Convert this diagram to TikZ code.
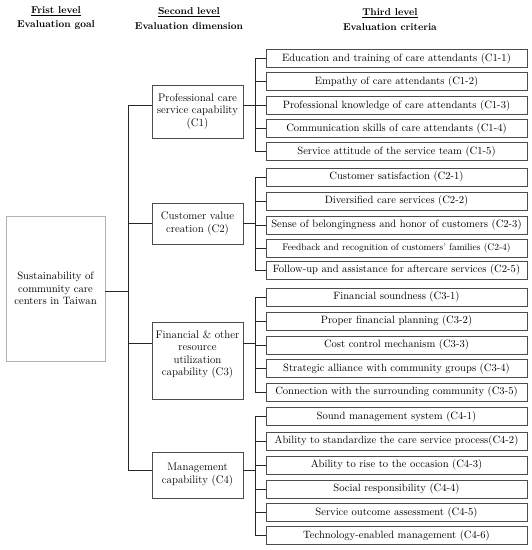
\documentclass[tikz,border=0pt]{standalone}
\usetikzlibrary{calc}
\begin{document}
\begin{tikzpicture}[x=1pt,y=-1pt,
  box/.style={draw=black!70, line width=0.7pt, inner sep=0pt, align=center},
  l3/.style={box, minimum width=261pt, minimum height=18pt, font=\fontsize{10.6}{12}\selectfont},
  l2/.style={box, minimum width=91pt, font=\fontsize{11}{12.5}\selectfont},
  hdr/.style={font=\bfseries\fontsize{10}{13}\selectfont, align=center, inner sep=0pt},
  conn/.style={draw=black!85, line width=0.8pt}]
\useasboundingbox (0,0) rectangle (532,550);
% headers
\node[hdr] (h1a) at (56,11) {\underline{Frist level}};
\node[hdr] (h1b) at (56,25) {Evaluation goal};
\node[hdr] (h2a) at (189,12) {\underline{Second level}};
\node[hdr] (h2b) at (189,26) {Evaluation dimension};
\node[hdr] (h3a) at (390,13) {\underline{Third level}};
\node[hdr] (h3b) at (390,27) {Evaluation criteria};
% first level
\node[box, draw=black!30, minimum width=99pt, minimum height=145pt, font=\fontsize{10.7}{12.5}\selectfont] (goal) at (55.5,288.5)
  {Sustainability of\\community care\\centers in Taiwan};
% second level
\node[l2, minimum height=53pt] (c1) at (197.5,111.5) {Professional care\\service capability\\(C1)};
\node[l2, minimum height=41pt] (c2) at (197.5,223.5) {Customer value\\creation (C2)};
\node[l2, minimum height=77pt, text depth=15pt] (c3) at (197.5,360.5) {Financial \& other\\resource\\utilization\\capability (C3)};
\node[l2, minimum height=46pt, text depth=4pt] (c4) at (197.5,475) {Management\\capability (C4)};
% third level
\node[l3] (c11) at (396.5,58.5) {Education and training of care attendants (C1-1)};
\node[l3] (c12) at (396.5,81.5) {Empathy of care attendants (C1-2)};
\node[l3] (c13) at (396.5,105.5) {Professional knowledge of care attendants (C1-3)};
\node[l3] (c14) at (396.5,128.5) {Communication skills of care attendants (C1-4)};
\node[l3] (c15) at (396.5,151.5) {Service attitude of the service team (C1-5)};
\node[l3] (c21) at (396.5,177) {Customer satisfaction (C2-1)};
\node[l3] (c22) at (396.5,201) {Diversified care services (C2-2)};
\node[l3] (c23) at (396.5,225) {Sense of belongingness and honor of customers (C2-3)};
\node[l3, font=\fontsize{9.5}{11}\selectfont] (c24) at (396.5,248) {Feedback and recognition of customers' families (C2-4)};
\node[l3] (c25) at (396.5,270) {Follow-up and assistance for aftercare services (C2-5)};
\node[l3] (c31) at (396.5,297) {Financial soundness (C3-1)};
\node[l3] (c32) at (396.5,321) {Proper financial planning (C3-2)};
\node[l3] (c33) at (396.5,345) {Cost control mechanism (C3-3)};
\node[l3] (c34) at (396.5,368.5) {Strategic alliance with community groups (C3-4)};
\node[l3] (c35) at (396.5,392) {Connection with the surrounding community (C3-5)};
\node[l3] (c41) at (396.5,416.5) {Sound management system (C4-1)};
\node[l3] (c42) at (396.5,441) {Ability to standardize the care service process(C4-2)};
\node[l3] (c43) at (396.5,465) {Ability to rise to the occasion (C4-3)};
\node[l3] (c44) at (396.5,489) {Social responsibility (C4-4)};
\node[l3] (c45) at (396.5,512.5) {Service outcome assessment (C4-5)};
\node[l3] (c46) at (396.5,535.5) {Technology-enabled management (C4-6)};
% trunk
\coordinate (jg) at (128,291);
\coordinate (j1) at (128,105);
\coordinate (j2) at (128,223);
\coordinate (j3) at (128,343);
\coordinate (j4) at (128,470);
\draw[conn] (j1) -- (j4);
\draw[conn] (jg -| goal.east) -- (jg);
\draw[conn] (j1) -- (j1 -| c1.west);
\draw[conn] (j2) -- (j2 -| c2.west);
\draw[conn] (j3) -- (j3 -| c3.west);
\draw[conn] (j4) -- (j4 -| c4.west);
% branches
\coordinate (b1) at (255,105);
\coordinate (b2) at (255,223);
\coordinate (b3) at (255,343);
\coordinate (b4) at (255,470);
\draw[conn] (b1 -| c1.east) -- (b1);
\draw[conn] (b2 -| c2.east) -- (b2);
\draw[conn] (b3 -| c3.east) -- (b3);
\draw[conn] (b4 -| c4.east) -- (b4);
\draw[conn] (b1 |- c11) -- (b1 |- c15);
\draw[conn] (b2 |- c21) -- (b2 |- c25);
\draw[conn] (b3 |- c31) -- (b3 |- c35);
\draw[conn] (b4 |- c41) -- (b4 |- c46);
\foreach \n in {c11,c12,c13,c14,c15} \draw[conn] (b1 |- \n) -- (\n.west);
\foreach \n in {c21,c22,c23,c24,c25} \draw[conn] (b2 |- \n) -- (\n.west);
\foreach \n in {c31,c32,c33,c34,c35} \draw[conn] (b3 |- \n) -- (\n.west);
\foreach \n in {c41,c42,c43,c44,c45,c46} \draw[conn] (b4 |- \n) -- (\n.west);
\end{tikzpicture}
\end{document}
